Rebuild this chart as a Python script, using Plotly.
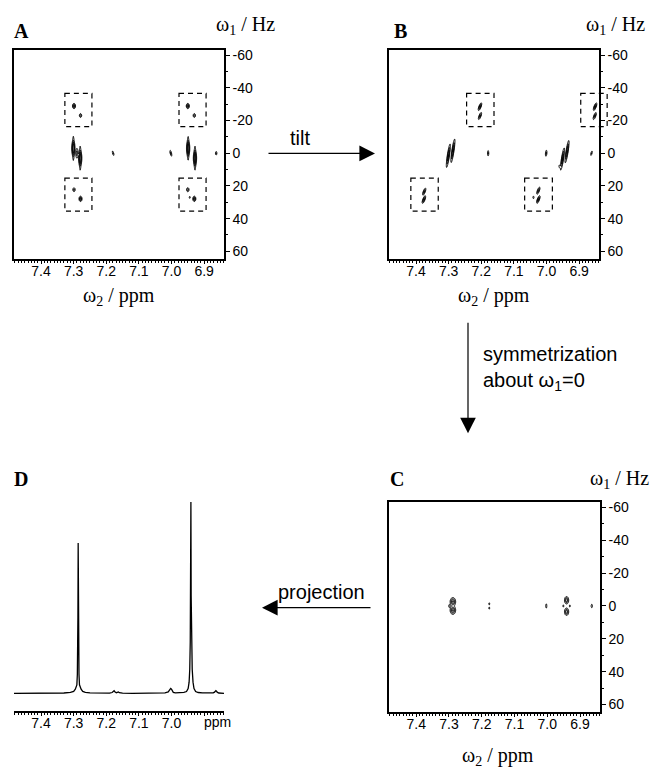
import numpy as np
import plotly.graph_objects as go

# ---------------- data ----------------
PPM_RANGE = [7.483, 6.839]          # omega2 axis (reversed)
HZ_RANGE = [64.7, -63.3]            # omega1 axis (negative at top)
x_tick_vals = [7.4, 7.3, 7.2, 7.1, 7.0, 6.9]
x_tick_text = ["7.4", "7.3", "7.2", "7.1", "7.0", "6.9"]
d_tick_text = ["7.4", "7.3", "7.2", "7.1", "7.0", ""]
y_tick_vals = [-60, -40, -20, 0, 20, 40, 60]
y_tick_text = ["-60", "-40", "-20", "0", "20", "40", "60"]
y_minor_vals = [-50, -30, -10, 10, 30, 50]

# Panel A peaks (ppm, Hz, amplitude, width ppm, width Hz, tilt correlation)
a_ppm = [7.299, 7.279, 7.299, 7.279, 6.950, 6.930, 6.950, 6.930, 6.944,
         7.301, 7.290, 7.280, 7.301, 7.280, 6.949, 6.928, 6.949, 6.928,
         7.179, 7.002, 6.863]
a_hz = [-28.9, -23.1, 22.3, 27.9, -28.9, -23.1, 22.3, 27.9, 27.0,
        -3.0, 0.0, 3.0, -3.0, 3.0, -3.0, 3.0, -3.0, 3.0,
        0.0, 0.0, 0.0]
a_amp = [1.0, 0.6, 0.6, 1.0, 1.0, 0.6, 0.65, 1.0, 0.35,
         1.0, 0.6, 1.0, 0.45, 0.45, 1.0, 1.0, 0.45, 0.45,
         0.5, 0.6, 0.5]
a_wppm = [0.0026, 0.0024, 0.0024, 0.0026, 0.0026, 0.0024, 0.0024, 0.0026, 0.0014,
          0.0028, 0.0024, 0.0028, 0.0014, 0.0014, 0.0028, 0.0028, 0.0014, 0.0014,
          0.0018, 0.0020, 0.0016]
a_whz = [0.9, 0.8, 0.8, 0.9, 0.9, 0.8, 0.8, 0.9, 0.6,
         2.6, 2.0, 2.6, 5.5, 5.5, 2.6, 2.6, 5.5, 5.5,
         1.0, 1.2, 0.8]
a_rho = [0, 0, 0, 0, 0, 0, 0, 0, 0,
         0, 0, 0, 0, 0, 0, 0, 0, 0,
         -0.7, -0.7, 0]

# Panel B peaks (after tilt)
b_ppm = [7.204, 7.204, 7.375, 7.376, 7.025, 7.025, 7.040, 6.851, 6.852,
         7.287, 7.301, 6.937, 6.951, 6.960,
         7.179, 7.001, 6.862]
b_hz = [-28.5, -22.8, 23.5, 28.3, 22.9, 28.3, 27.0, -28.5, -22.8,
        -1.5, 1.5, -1.0, 3.5, 8.0,
        0.0, 0.0, 0.0]
b_amp = [1.0, 0.8, 0.8, 1.0, 0.8, 1.0, 0.35, 1.0, 0.8,
         1.0, 1.0, 1.0, 1.0, 0.35,
         0.5, 0.55, 0.5]
b_wppm = [0.0030, 0.0030, 0.0030, 0.0030, 0.0030, 0.0030, 0.0015, 0.0030, 0.0030,
          0.0035, 0.0035, 0.0035, 0.0035, 0.0015,
          0.0014, 0.0016, 0.0018]
b_whz = [1.3, 1.3, 1.3, 1.3, 1.3, 1.3, 0.7, 1.3, 1.3,
         4.0, 4.0, 3.8, 3.8, 0.8,
         1.2, 1.3, 1.0]
b_rho = [0.75, 0.75, 0.75, 0.75, 0.75, 0.75, 0, 0.75, 0.75,
         0.85, 0.85, 0.85, 0.85, 0,
         0, 0.3, 0.7]

# Panel C peaks (after symmetrization)
c_ppm = [7.288, 7.288, 7.299, 7.177, 7.177, 7.003, 6.941, 6.941, 6.951, 6.931, 6.864]
c_hz = [-2.6, 2.6, 0.0, -1.3, 1.3, 0.0, -3.5, 3.5, 0.0, 0.0, 0.0]
c_amp = [1.0, 1.0, 0.35, 0.35, 0.35, 0.45, 0.9, 0.9, 0.35, 0.35, 0.45]
c_wppm = [0.0047, 0.0047, 0.0015, 0.0013, 0.0013, 0.0013, 0.0037, 0.0037, 0.0013, 0.0013, 0.0015]
c_whz = [1.4, 1.4, 0.8, 0.6, 0.6, 1.0, 1.3, 1.3, 0.6, 0.6, 0.8]
c_rho = [0, 0, 0, 0, 0, 0, 0, 0, 0, 0, 0]

# Panel D projection spectrum (ppm, intensity)
d_ppm = [7.483, 7.44, 7.40, 7.36, 7.33, 7.310, 7.300, 7.295, 7.2902, 7.2887,
         7.2877, 7.2870, 7.2862, 7.2854, 7.2847, 7.2837, 7.2822, 7.2772,
         7.2722, 7.2642, 7.250, 7.22, 7.19, 7.182, 7.179, 7.176, 7.173,
         7.169, 7.166, 7.163, 7.160, 7.150, 7.12, 7.06, 7.02, 7.010,
         7.0055, 7.0025, 7.000, 6.9975, 6.9945, 6.988, 6.975, 6.962, 6.954,
         6.949, 6.946, 6.944, 6.9425, 6.9413, 6.9405, 6.9397, 6.9385,
         6.9365, 6.934, 6.931, 6.926, 6.918, 6.905, 6.885, 6.872, 6.868,
         6.866, 6.864, 6.862, 6.860, 6.855, 6.845, 6.839]
d_int = [0.3, 0.25, 0.3, 0.35, 0.45, 0.8, 1.3, 2.4, 4.7, 10.2,
         21.0, 40.0, 78.6, 40.0, 21.0, 10.2, 4.7, 2.4,
         1.3, 0.8, 0.5, 0.35, 0.4, 0.7, 1.3, 1.6, 1.0,
         0.6, 0.8, 1.0, 0.6, 0.35, 0.3, 0.3, 0.5, 1.0,
         2.2, 2.8, 2.4, 1.4, 0.8, 0.5, 0.6, 0.8, 1.2,
         2.8, 6.1, 12.8, 27.0, 51.0, 100.0, 51.0, 27.0,
         12.8, 6.1, 2.8, 1.2, 0.7, 0.5, 0.4, 0.5, 0.9,
         1.4, 1.7, 1.4, 0.9, 0.45, 0.35, 0.3]
D_INT_RANGE = [-9.05, 102.07]

# Dashed boxes (ppm0, ppm1, hz0, hz1)
a_boxes = [(7.327, 7.244, -36.6, -16.3), (7.327, 7.244, 15.2, 35.4),
           (6.977, 6.894, -36.6, -16.3), (6.977, 6.894, 15.2, 35.4)]
b_boxes = [(7.245, 7.161, -36.6, -16.3), (7.416, 7.332, 15.2, 35.4),
           (7.067, 6.982, 15.2, 35.4), (6.895, 6.814, -36.6, -16.3)]

# ---------------- rendering helpers ----------------
xs = np.linspace(PPM_RANGE[0], PPM_RANGE[1], 560)
ys = np.linspace(HZ_RANGE[1], HZ_RANGE[0], 360)
XX, YY = np.meshgrid(xs, ys)


def surface(ppm, hz, amp, wp, wh, rho):
    z = np.zeros_like(XX)
    for p, h, a, sp, sh, r in zip(ppm, hz, amp, wp, wh, rho):
        u = (XX - p) / sp
        v = (YY - h) / sh
        q = (u * u - 2 * r * u * v + v * v) / (1 - r * r)
        z += a * np.exp(-0.5 * q)
    return z.astype(np.float32)


def contour(z, xa, ya):
    return go.Contour(
        x=xs.astype(np.float32), y=ys.astype(np.float32), z=z,
        xaxis=xa, yaxis=ya,
        contours=dict(coloring="lines", start=0.2, end=0.95, size=0.25),
        line=dict(width=1.0, color="black"),
        colorscale=[[0, "black"], [1, "black"]],
        showscale=False, hoverinfo="skip",
    )


fig = go.Figure()
fig.add_trace(contour(surface(a_ppm, a_hz, a_amp, a_wppm, a_whz, a_rho), "x", "y"))
fig.add_trace(contour(surface(b_ppm, b_hz, b_amp, b_wppm, b_whz, b_rho), "x2", "y2"))
fig.add_trace(contour(surface(c_ppm, c_hz, c_amp, c_wppm, c_whz, c_rho), "x3", "y3"))
fig.add_trace(go.Scatter(x=d_ppm, y=d_int, xaxis="x4", yaxis="y4", mode="lines",
                         line=dict(color="black", width=1.3), hoverinfo="skip"))

W, H = 652, 768
TICKFONT = dict(family="Liberation Sans, Arial", size=14, color="black")
SERIF = "Liberation Serif, Times New Roman"


def xaxis_cfg(dom, anchor, ticktext, mirror=True):
    return dict(domain=dom, anchor=anchor, range=PPM_RANGE, showline=True,
                mirror=mirror, linecolor="black", linewidth=1.5,
                ticks="outside", ticklen=3, tickwidth=1, tickcolor="black",
                tickmode="array", tickvals=x_tick_vals, ticktext=ticktext,
                ticklabelstandoff=-5,
                minor=dict(dtick=0.01, tick0=7.0, ticks="outside", ticklen=2,
                           tickwidth=1, tickcolor="black"),
                showgrid=False, zeroline=False, tickfont=TICKFONT,
                fixedrange=True)


def yaxis_cfg(dom, anchor):
    return dict(domain=dom, anchor=anchor, range=HZ_RANGE, side="right",
                showline=True, mirror=True, linecolor="black", linewidth=1.5,
                ticks="outside", ticklen=4, tickwidth=1, tickcolor="black",
                tickmode="array", tickvals=y_tick_vals, ticktext=y_tick_text,
                minor=dict(tickmode="array", tickvals=y_minor_vals,
                           ticks="outside", ticklen=2, tickwidth=1,
                           tickcolor="black"),
                showgrid=False, zeroline=False, tickfont=TICKFONT,
                fixedrange=True)


domA_x = [14 / W, 224 / W]
domB_x = [389 / W, 599 / W]
domC_x = [389 / W, 600 / W]
dom_top_y = [1 - 257 / H, 1 - 47 / H]
domC_y = [1 - 712 / H, 1 - 501 / H]
domD_y = [1 - 711 / H, 1 - 497 / H]

fig.update_layout(
    width=W, height=H, margin=dict(l=0, r=0, t=0, b=0),
    paper_bgcolor="white", plot_bgcolor="white", showlegend=False,
    xaxis=xaxis_cfg(domA_x, "y", x_tick_text), yaxis=yaxis_cfg(dom_top_y, "x"),
    xaxis2=xaxis_cfg(domB_x, "y2", x_tick_text), yaxis2=yaxis_cfg(dom_top_y, "x2"),
    xaxis3=xaxis_cfg(domC_x, "y3", x_tick_text), yaxis3=yaxis_cfg(domC_y, "x3"),
    xaxis4=xaxis_cfg(domA_x, "y4", d_tick_text, mirror=False),
    yaxis4=dict(domain=domD_y, anchor="x4", range=D_INT_RANGE, visible=False,
                fixedrange=True),
)

# dashed boxes
dash_line = dict(color="black", width=1.2, dash="5px,4px")
for (p0, p1, h0, h1) in a_boxes:
    fig.add_shape(type="rect", xref="x", yref="y", x0=p0, x1=p1, y0=h0, y1=h1,
                  line=dash_line, layer="above")
for (p0, p1, h0, h1) in b_boxes:
    if min(p0, p1) < PPM_RANGE[1]:
        # box runs past the right frame: use axis-domain units so it is not clipped
        span = PPM_RANGE[0] - PPM_RANGE[1]
        hspan = HZ_RANGE[0] - HZ_RANGE[1]
        fig.add_shape(type="rect", xref="x2 domain", yref="y2 domain",
                      x0=(PPM_RANGE[0] - p0) / span, x1=(PPM_RANGE[0] - p1) / span,
                      y0=(HZ_RANGE[0] - h0) / hspan, y1=(HZ_RANGE[0] - h1) / hspan,
                      line=dash_line, layer="above")
    else:
        fig.add_shape(type="rect", xref="x2", yref="y2", x0=p0, x1=p1, y0=h0, y1=h1,
                      line=dash_line, layer="above")

ann = []
# panel letters
for letter, px, py in [("A", 12, 28), ("B", 392, 28), ("C", 388, 478), ("D", 12, 478)]:
    ann.append(dict(text="<b>%s</b>" % letter, x=px / W, y=1 - py / H, xref="paper",
                    yref="paper", xanchor="left", yanchor="middle", showarrow=False,
                    font=dict(family=SERIF, size=20, color="black")))
# axis titles
for px, py in [(277, 23), (647, 23), (651, 478)]:
    ann.append(dict(text="ω<sub>1</sub> / Hz", x=px / W, y=1 - py / H, xref="paper",
                    yref="paper", xanchor="right", yanchor="middle", showarrow=False,
                    font=dict(family=SERIF, size=20, color="black")))
for px, py in [(119, 295), (494, 295), (498, 756)]:
    ann.append(dict(text="ω<sub>2</sub> / ppm", x=px / W, y=1 - py / H, xref="paper",
                    yref="paper", xanchor="center", yanchor="middle", showarrow=False,
                    font=dict(family=SERIF, size=20, color="black")))
# unit label of panel D axis
ann.append(dict(text="ppm", x=6.860, y=1 - 722 / H, xref="x4", yref="paper",
                showarrow=False, xanchor="center", yanchor="middle", font=TICKFONT))

# arrows
arrow = dict(xref="paper", yref="paper", axref="pixel", ayref="pixel", text="",
             showarrow=True, arrowhead=2, arrowsize=2.6, arrowwidth=1.2,
             arrowcolor="black")
ann.append(dict(arrow, x=375 / W, y=1 - 151 / H, ax=-108, ay=0))
ann.append(dict(arrow, x=468 / W, y=1 - 432 / H, ax=0, ay=-112))
ann.append(dict(arrow, x=262 / W, y=1 - 607 / H, ax=110, ay=0))
LAB = dict(family="Liberation Sans, Arial", size=20, color="black")
ann.append(dict(text="tilt", x=300 / W, y=1 - 136 / H, xref="paper", yref="paper",
                showarrow=False, xanchor="center", yanchor="middle", font=LAB))
ann.append(dict(text="symmetrization<br>about ω<sub>1</sub>=0", x=481 / W, y=1 - 367 / H,
                xref="paper", yref="paper", showarrow=False, xanchor="left",
                yanchor="middle", align="left", font=LAB))
ann.append(dict(text="projection", x=321 / W, y=1 - 591 / H, xref="paper", yref="paper",
                showarrow=False, xanchor="center", yanchor="middle", font=LAB))

fig.update_layout(annotations=ann)
fig.write_html("out.html")
